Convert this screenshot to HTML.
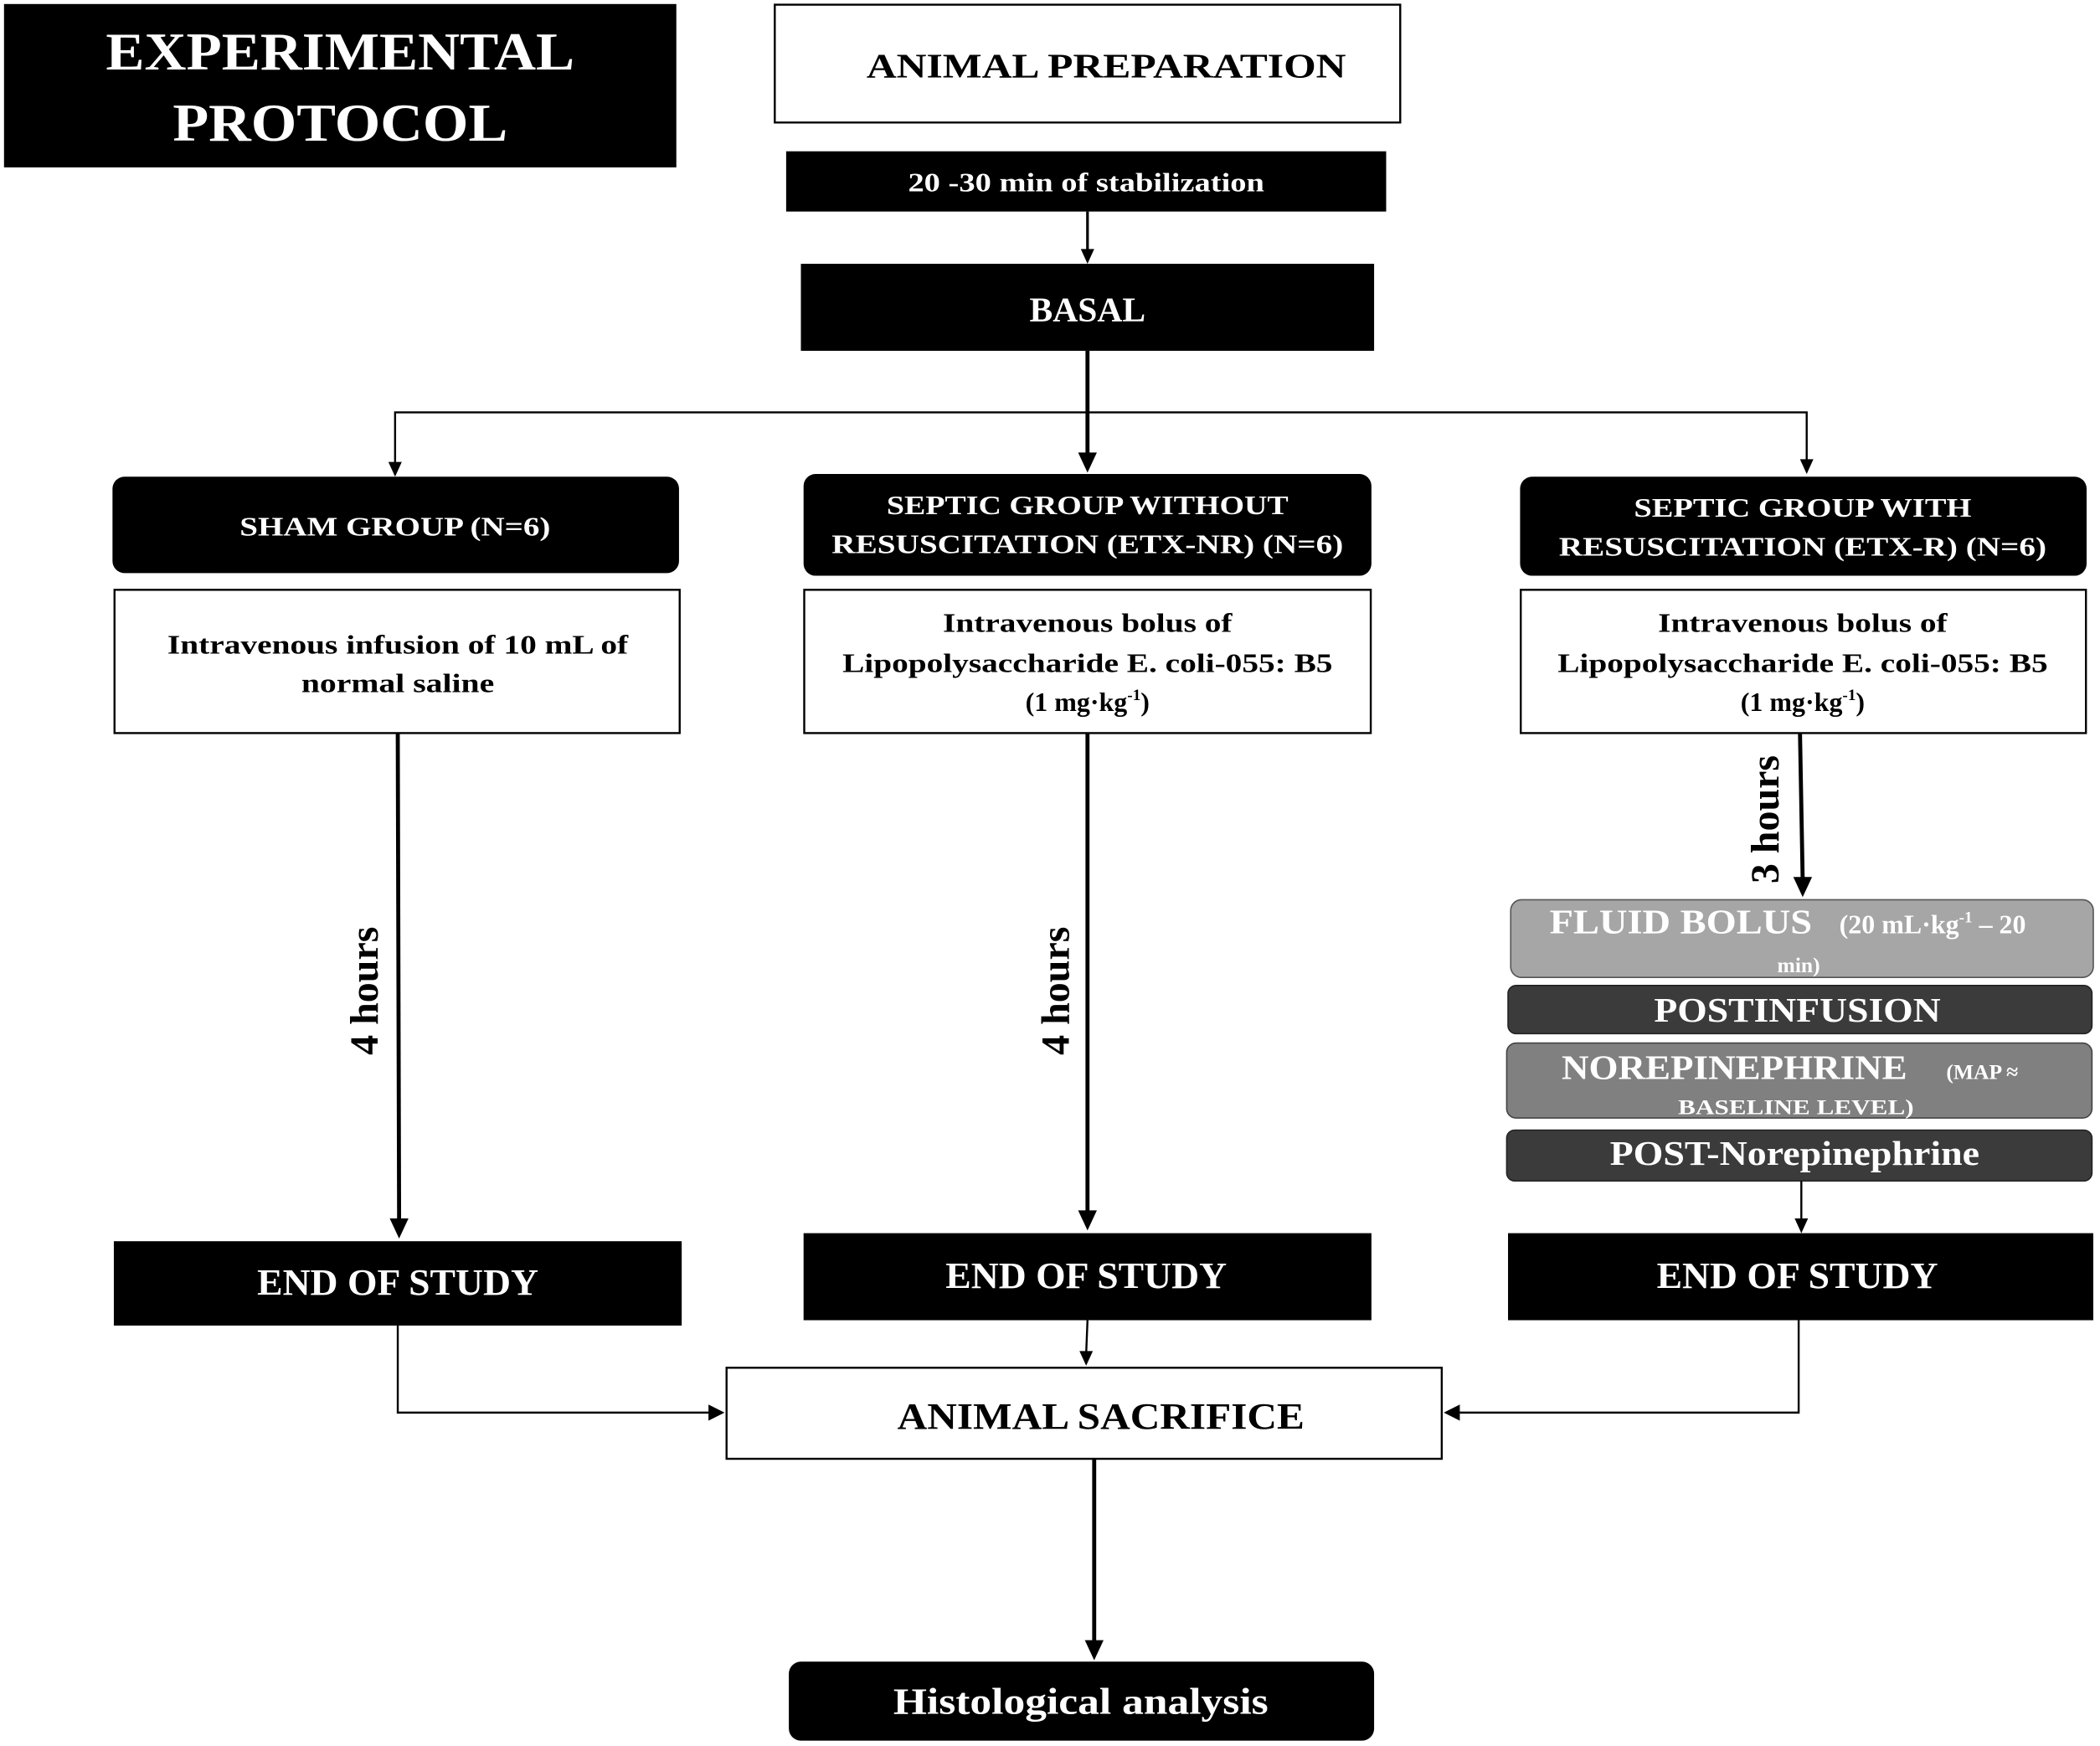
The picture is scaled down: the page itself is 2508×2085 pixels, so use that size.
<!DOCTYPE html>
<html><head><meta charset="utf-8"><style>
html,body{margin:0;padding:0;background:#fff;}
svg{display:block;}
text{font-family:"Liberation Serif",serif;font-weight:bold;}
</style></head><body>
<svg width="2508" height="2085" viewBox="0 0 1568 1304" preserveAspectRatio="none" xmlns="http://www.w3.org/2000/svg">

<!-- title -->
<rect x="3" y="3" width="502" height="122" fill="#000"/>
<text x="254" y="52" font-size="40" fill="#fff" text-anchor="middle" textLength="350" lengthAdjust="spacingAndGlyphs">EXPERIMENTAL</text>
<text x="254" y="105" font-size="40" fill="#fff" text-anchor="middle" textLength="250" lengthAdjust="spacingAndGlyphs">PROTOCOL</text>

<rect x="578.5" y="3.5" width="467" height="88" fill="#fff" stroke="#000" stroke-width="1.5"/>
<text x="826" y="58" font-size="26" text-anchor="middle" textLength="358" lengthAdjust="spacingAndGlyphs">ANIMAL  PREPARATION</text>

<rect x="587" y="113" width="448" height="45" fill="#000"/>
<text x="811" y="143" font-size="20" fill="#fff" text-anchor="middle" textLength="266" lengthAdjust="spacingAndGlyphs">20 -30 min of stabilization</text>
<line x1="812" y1="158" x2="812" y2="188" stroke="#000" stroke-width="2"/>
<path d="M807,186 L817,186 L812,197 z" fill="#000"/>

<rect x="598" y="197" width="428" height="65" fill="#000"/>
<text x="812" y="240" font-size="26" fill="#fff" text-anchor="middle">BASAL</text>

<line x1="812" y1="262" x2="812" y2="340" stroke="#000" stroke-width="3"/>
<path d="M805,338 L819,338 L812,353 z" fill="#000"/>
<polyline points="295,348 295,308 1349,308 1349,346" fill="none" stroke="#000" stroke-width="1.5"/>
<path d="M290,345 L300,345 L295,356 z" fill="#000"/>
<path d="M1344,343 L1354,343 L1349,354 z" fill="#000"/>

<!-- group headers -->
<rect x="84" y="356" width="423" height="72" rx="9" fill="#000"/>
<text x="295" y="400" font-size="20" fill="#fff" text-anchor="middle" textLength="232" lengthAdjust="spacingAndGlyphs">SHAM GROUP  (N=6)</text>
<rect x="600" y="354" width="424" height="76" rx="9" fill="#000"/>
<text x="812" y="384" font-size="20" fill="#fff" text-anchor="middle" textLength="300" lengthAdjust="spacingAndGlyphs">SEPTIC  GROUP  WITHOUT</text>
<text x="812" y="413" font-size="20" fill="#fff" text-anchor="middle" textLength="382" lengthAdjust="spacingAndGlyphs">RESUSCITATION  (ETX-NR)  (N=6)</text>
<rect x="1135" y="356" width="423" height="74" rx="9" fill="#000"/>
<text x="1346" y="386" font-size="20" fill="#fff" text-anchor="middle" textLength="252" lengthAdjust="spacingAndGlyphs">SEPTIC  GROUP  WITH</text>
<text x="1346" y="415" font-size="20" fill="#fff" text-anchor="middle" textLength="364" lengthAdjust="spacingAndGlyphs">RESUSCITATION  (ETX-R)  (N=6)</text>

<!-- white boxes -->
<rect x="85.5" y="440.5" width="422" height="107" fill="#fff" stroke="#000" stroke-width="1.5"/>
<text x="297" y="488" font-size="20" text-anchor="middle" textLength="344" lengthAdjust="spacingAndGlyphs">Intravenous  infusion of 10 mL  of</text>
<text x="297" y="517" font-size="20" text-anchor="middle" textLength="144" lengthAdjust="spacingAndGlyphs">normal  saline</text>

<rect x="600.5" y="440.5" width="423" height="107" fill="#fff" stroke="#000" stroke-width="1.5"/>
<text x="812" y="472" font-size="20" text-anchor="middle" textLength="216" lengthAdjust="spacingAndGlyphs">Intravenous  bolus  of</text>
<text x="812" y="502" font-size="20" text-anchor="middle" textLength="366" lengthAdjust="spacingAndGlyphs">Lipopolysaccharide  E. coli-055: B5</text>
<text x="812" y="531" font-size="20" text-anchor="middle">(1 mg·kg<tspan font-size="12" dy="-8">-1</tspan><tspan dy="8">)</tspan></text>

<rect x="1135.5" y="440.5" width="422" height="107" fill="#fff" stroke="#000" stroke-width="1.5"/>
<text x="1346" y="472" font-size="20" text-anchor="middle" textLength="216" lengthAdjust="spacingAndGlyphs">Intravenous  bolus  of</text>
<text x="1346" y="502" font-size="20" text-anchor="middle" textLength="366" lengthAdjust="spacingAndGlyphs">Lipopolysaccharide  E. coli-055: B5</text>
<text x="1346" y="531" font-size="20" text-anchor="middle">(1 mg·kg<tspan font-size="12" dy="-8">-1</tspan><tspan dy="8">)</tspan></text>

<!-- long arrows -->
<line x1="297" y1="548" x2="298" y2="912" stroke="#000" stroke-width="3"/>
<path d="M291,910 L305,910 L298,925 z" fill="#000"/>
<text transform="translate(282,740) rotate(-90)" font-size="30" text-anchor="middle">4 hours</text>
<line x1="812" y1="548" x2="812" y2="906" stroke="#000" stroke-width="3"/>
<path d="M805,904 L819,904 L812,919 z" fill="#000"/>
<text transform="translate(798,740) rotate(-90)" font-size="30" text-anchor="middle">4 hours</text>
<line x1="1344" y1="548" x2="1346" y2="657" stroke="#000" stroke-width="3"/>
<path d="M1339,655 L1353,655 L1346,670 z" fill="#000"/>
<text transform="translate(1328,612) rotate(-90)" font-size="30" text-anchor="middle">3 hours</text>

<!-- resuscitation steps -->
<rect x="1128" y="672" width="435" height="58" rx="8" fill="#a6a6a6" stroke="#555" stroke-width="1"/>
<text x="1255" y="697" font-size="26" fill="#fff" text-anchor="middle" textLength="196" lengthAdjust="spacingAndGlyphs">FLUID  BOLUS</text>
<text x="1443" y="697" font-size="20" fill="#fff" text-anchor="middle">(20 mL·kg<tspan font-size="12" dy="-8">-1</tspan><tspan dy="8"> – 20</tspan></text>
<text x="1343" y="726" font-size="16" fill="#fff" text-anchor="middle">min)</text>

<rect x="1126" y="736" width="436" height="36" rx="6" fill="#3b3b3b" stroke="#222" stroke-width="1"/>
<text x="1342" y="763" font-size="26" fill="#fff" text-anchor="middle" textLength="214" lengthAdjust="spacingAndGlyphs">POSTINFUSION</text>

<rect x="1125" y="779" width="437" height="56" rx="7" fill="#808080" stroke="#444" stroke-width="1"/>
<text x="1295" y="806" font-size="26" fill="#fff" text-anchor="middle" textLength="258" lengthAdjust="spacingAndGlyphs">NOREPINEPHRINE</text>
<text x="1480" y="806" font-size="16" fill="#fff" text-anchor="middle">(MAP ≈</text>
<text x="1341" y="832" font-size="16" fill="#fff" text-anchor="middle" textLength="176" lengthAdjust="spacingAndGlyphs">BASELINE LEVEL)</text>

<rect x="1125" y="844" width="437" height="38" rx="6" fill="#3b3b3b" stroke="#222" stroke-width="1"/>
<text x="1340" y="870" font-size="26" fill="#fff" text-anchor="middle" textLength="276" lengthAdjust="spacingAndGlyphs">POST-Norepinephrine</text>
<line x1="1345" y1="882" x2="1345" y2="912" stroke="#000" stroke-width="1.5"/>
<path d="M1340,910 L1350,910 L1345,921 z" fill="#000"/>

<!-- end of study -->
<rect x="85" y="927" width="424" height="63" fill="#000"/>
<text x="297" y="967" font-size="28" fill="#fff" text-anchor="middle" textLength="210" lengthAdjust="spacingAndGlyphs">END OF STUDY</text>
<rect x="600" y="921" width="424" height="65" fill="#000"/>
<text x="811" y="962" font-size="28" fill="#fff" text-anchor="middle" textLength="210" lengthAdjust="spacingAndGlyphs">END OF STUDY</text>
<rect x="1126" y="921" width="437" height="65" fill="#000"/>
<text x="1342" y="962" font-size="28" fill="#fff" text-anchor="middle" textLength="210" lengthAdjust="spacingAndGlyphs">END OF STUDY</text>

<!-- sacrifice -->
<rect x="542.5" y="1021.5" width="534" height="68" fill="#fff" stroke="#000" stroke-width="1.5"/>
<text x="822" y="1067" font-size="28" text-anchor="middle" textLength="304" lengthAdjust="spacingAndGlyphs">ANIMAL  SACRIFICE</text>
<polyline points="297,990 297,1055 530,1055" fill="none" stroke="#000" stroke-width="1.5"/>
<path d="M529,1049 L541,1055 L529,1061 z" fill="#000"/>
<polyline points="1343,986 1343,1055 1090,1055" fill="none" stroke="#000" stroke-width="1.5"/>
<path d="M1078,1055 L1090,1049 L1090,1061 z" fill="#000"/>
<line x1="812" y1="986" x2="811" y2="1011" stroke="#000" stroke-width="1.5"/>
<path d="M806,1009 L816,1009 L811,1020 z" fill="#000"/>

<line x1="817" y1="1090" x2="817" y2="1227" stroke="#000" stroke-width="3"/>
<path d="M810,1225 L824,1225 L817,1240 z" fill="#000"/>
<rect x="589" y="1241" width="437" height="59" rx="9" fill="#000"/>
<text x="807" y="1280" font-size="28" fill="#fff" text-anchor="middle" textLength="280" lengthAdjust="spacingAndGlyphs">Histological analysis</text>
</svg>
</body></html>
